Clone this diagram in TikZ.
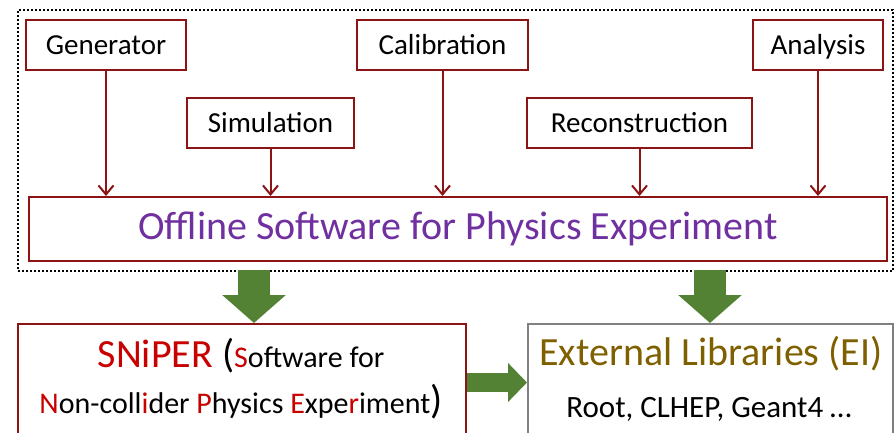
\documentclass[tikz,border=0pt]{standalone}
\usepackage{fontspec}
\setmainfont{Carlito}
\usetikzlibrary{arrows.meta,positioning}

\definecolor{boxred}{RGB}{140,20,20}
\definecolor{offpurple}{RGB}{112,48,160}
\definecolor{arrowgreen}{RGB}{84,130,53}
\definecolor{letred}{RGB}{200,0,0}
\definecolor{extgold}{RGB}{127,96,0}
\newcommand{\fs}[1]{\fontsize{#1}{#1}\selectfont}

\begin{document}
\begin{tikzpicture}[x=1pt,y=-1pt,line width=2pt,
  stepbox/.style={draw=boxred,minimum height=50,inner sep=0pt,text height=19pt,text depth=0pt,font=\fs{29}},
  flow/.style={->,boxred,>={Straight Barb[length=9pt,width=15pt]}},
  bigarrow/.style={arrowgreen,line width=32pt,-{Triangle[length=28pt,width=62pt]}}]
  \useasboundingbox (0,0) rectangle (894,432);
  \clip (0,0) rectangle (894,432);
  % frame round the offline software
  \node[draw,dotted,minimum width=875,minimum height=261,inner sep=0pt,anchor=north west] (frame) at (17,9) {};
  % steps
  \node[stepbox,minimum width=160] (gen) at (106,45) {Generator};
  \node[stepbox,minimum width=167] (sim) at (270.5,123) {Simulation};
  \node[stepbox,minimum width=171] (cal) at (442.5,45) {Calibration};
  \node[stepbox,minimum width=225] (rec) at (639.5,122.5) {Reconstruction};
  \node[stepbox,minimum width=130] (ana) at (818,45) {Analysis};
  \node[draw=boxred,minimum width=858,minimum height=64,inner sep=0pt,text=offpurple,font=\fs{40}] (off) at (458,229) {Offline Software for Physics Experiment};
  \foreach \s in {gen,sim,cal,rec,ana}
    \draw[flow] (\s) -- (\s |- off.north);
  % framework and libraries
  \node[draw=boxred,minimum width=448,minimum height=125,anchor=north west] (sniper) at (17,323) {};
  \node[draw=gray,minimum width=365,minimum height=125,anchor=north west] (ext) at (527,323) {};
  \node[anchor=base,font=\fs{30}] (sniperone) at (241,367)
    {{\fs{40}\textcolor{letred}{SNiPER} (}\textcolor{letred}{S}oftware for};
  \node[anchor=base,font=\fs{30}] (snipertwo) at (241,413)
    {\textcolor{letred}{N}on-coll\textcolor{letred}{i}der \textcolor{letred}{P}hysics \textcolor{letred}{E}xpe\textcolor{letred}{r}iment{\fs{40})}};
  \node[anchor=base,font=\fs{40},text=extgold] (extone) at (711,365) {External Libraries (EI)};
  \node[anchor=base,font=\fs{31}] (exttwo) at (709,417) {Root, CLHEP, Geant4 \dots};
  % green arrows
  \coordinate (out1) at (254,270);
  \coordinate (out2) at (710,270);
  \draw[bigarrow] (out1) -- (out1 |- sniper.north);
  \draw[bigarrow] (out2) -- (out2 |- ext.north);
  \draw[bigarrow,line width=19pt,-{Triangle[length=19pt,width=38pt]}] ([yshift=4]sniper.east) -- ([yshift=4]sniper.east -| ext.west);
\end{tikzpicture}
\end{document}
